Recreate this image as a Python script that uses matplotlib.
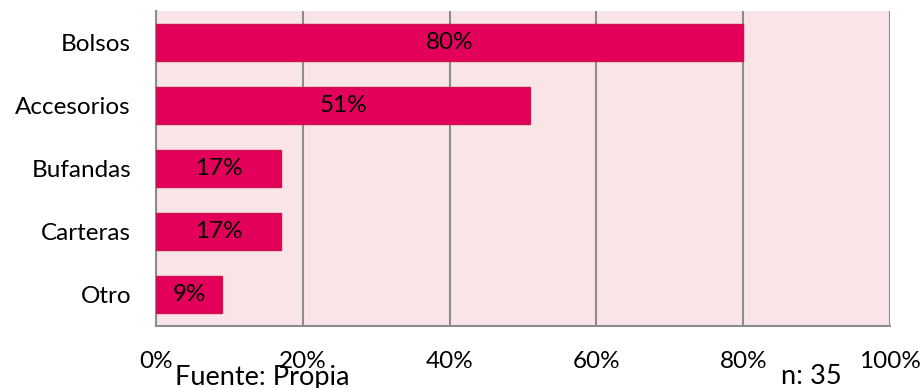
import matplotlib.pyplot as plt
import numpy as np

plt.rcParams['font.family'] = ['Lato', 'DejaVu Sans']

categories = ["Bolsos", "Accesorios", "Bufandas", "Carteras", "Otro"]
values = [80, 51, 17, 17, 9]
xticks = [0, 20, 40, 60, 80, 100]

BAR_COLOR = "#e2005a"
EDGE_COLOR = "#cc1450"
BG_COLOR = "#f9e5e7"
GRID_COLOR = "#8c8c8c"
FS = 17.5

fig = plt.figure(figsize=(9.21, 3.88), dpi=100)
ax = fig.add_axes([0.1694, 0.1598, 0.797, 0.8118])
ax.set_facecolor(BG_COLOR)

ys = np.arange(len(categories))
ax.barh(ys, values, height=0.6, color=BAR_COLOR, edgecolor=EDGE_COLOR,
        linewidth=1.0, zorder=3)
for y, v in zip(ys, values):
    ax.text(v / 2, y, f"{v}%", ha="center", va="center", fontsize=FS,
            color="black", zorder=4)

ax.set_ylim(len(categories) - 0.5, -0.5)
ax.set_xlim(0, 100)
ax.set_yticks(ys)
ax.set_yticklabels(categories, fontsize=FS)
ax.set_xticks(xticks)
ax.set_xticklabels([f"{t}%" for t in xticks], fontsize=FS)
ax.tick_params(axis="both", length=0)
ax.tick_params(axis="x", pad=18)
ax.tick_params(axis="y", pad=18)

ax.grid(axis="x", color=GRID_COLOR, linewidth=1.5, zorder=1)
ax.set_axisbelow(True)
ax.spines["top"].set_visible(False)
ax.spines["right"].set_visible(False)
for side in ["left", "bottom"]:
    ax.spines[side].set_color(GRID_COLOR)
    ax.spines[side].set_linewidth(1.5)

# source and sample size notes sit under the axis, overlapping the ticks as in the original
fig.text(175 / 921, 1 - 377 / 388, "Fuente: Propia", fontsize=19.5,
         ha="left", va="center")
fig.text(781 / 921, 1 - 377 / 388, "n: 35", fontsize=19.5,
         ha="left", va="center")

fig.savefig("out.png", dpi=100)
